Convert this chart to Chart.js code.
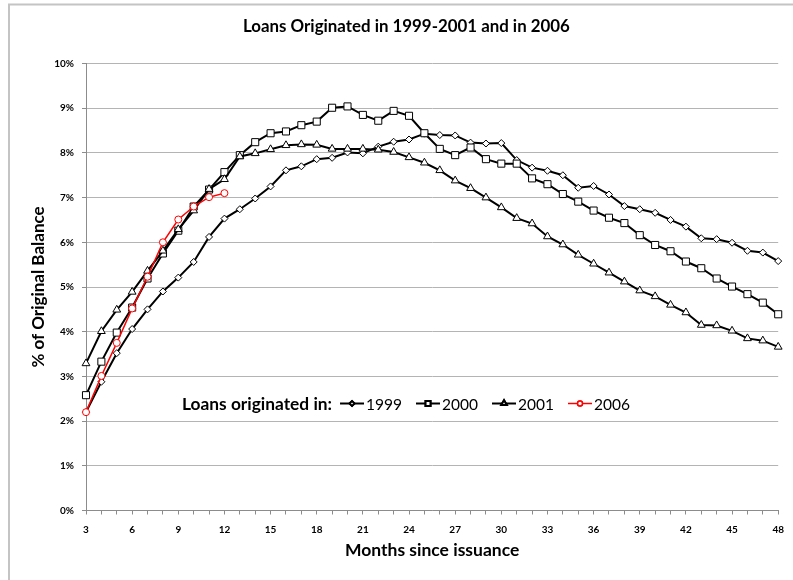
<!DOCTYPE html>
<html>
<head>
<meta charset="utf-8">
<title>Loans Originated in 1999-2001 and in 2006</title>
<script src="https://cdn.jsdelivr.net/npm/chart.js@4.4.1/dist/chart.umd.min.js"></script>
<style>
  html, body { margin: 0; padding: 0; background: #fff; }
  #wrap { width: 793px; height: 580px; }
</style>
</head>
<body>
<div id="wrap"><canvas id="loanchart" width="793" height="580"></canvas></div>
<script>
// data (% of original balance by month since issuance)
var months = [3, 4, 5, 6, 7, 8, 9, 10, 11, 12, 13, 14, 15, 16, 17, 18, 19, 20, 21, 22, 23, 24, 25,
              26, 27, 28, 29, 30, 31, 32, 33, 34, 35, 36, 37, 38, 39, 40, 41, 42, 43, 44, 45, 46, 47, 48];

var s1999 = [2.20, 2.88, 3.52, 4.06, 4.50, 4.90, 5.21, 5.56, 6.12, 6.53,
             6.74, 6.98, 7.25, 7.61, 7.70, 7.86, 7.89, 8.01, 7.99, 8.14,
             8.25, 8.30, 8.43, 8.40, 8.39, 8.23, 8.21, 8.22, 7.84, 7.67,
             7.60, 7.50, 7.22, 7.26, 7.07, 6.81, 6.74, 6.66, 6.50, 6.35,
             6.09, 6.07, 5.99, 5.81, 5.77, 5.58];

var s2000 = [2.58, 3.33, 3.98, 4.54, 5.19, 5.75, 6.26, 6.80, 7.18, 7.57,
             7.95, 8.24, 8.44, 8.48, 8.62, 8.70, 9.01, 9.04, 8.85, 8.72,
             8.94, 8.83, 8.44, 8.09, 7.95, 8.12, 7.86, 7.76, 7.76, 7.43,
             7.30, 7.08, 6.91, 6.71, 6.55, 6.43, 6.16, 5.94, 5.80, 5.57,
             5.42, 5.19, 5.01, 4.84, 4.65, 4.39];

var s2001 = [3.29, 4.01, 4.49, 4.89, 5.36, 5.81, 6.29, 6.71, 7.19, 7.41,
             7.92, 7.99, 8.08, 8.17, 8.19, 8.18, 8.09, 8.09, 8.09, 8.07,
             8.02, 7.90, 7.78, 7.61, 7.38, 7.21, 7.00, 6.78, 6.54, 6.42,
             6.13, 5.95, 5.72, 5.52, 5.32, 5.12, 4.92, 4.79, 4.60, 4.43,
             4.15, 4.14, 4.02, 3.85, 3.80, 3.66];

// 2006 loans only have the first year
var s2006 = [2.20, 3.01, 3.75, 4.52, 5.23, 6.00, 6.51, 6.80, 7.01, 7.10];

var seriesNames = ['1999', '2000', '2001', '2006'];
var chartTitle = 'Loans Originated in 1999-2001 and in 2006';
var legendLead = 'Loans originated in:';
var xTitle = 'Months since issuance';
var yTitle = '% of Original Balance';

function pts(vals) {
    return vals.map(function (v, i) { return { x: months[i], y: v }; });
}

var FONT = 'Lato, "Noto Sans", sans-serif';

// draw text so it spans a given width (reference uses a narrow font)
function fitFont(c, text, weight, width) {
    c.font = weight + ' 20px ' + FONT;
    var size = 20 * width / c.measureText(text).width;
    c.font = weight + ' ' + size.toFixed(2) + 'px ' + FONT;
}

var extras = {
    id: 'extras',
    beforeDraw: function (chart) {
        var c = chart.ctx;
        c.save();
        c.fillStyle = '#fff';
        c.fillRect(0, 0, chart.width, chart.height);
        c.strokeStyle = '#c4c4c4';
        c.lineWidth = 2;
        c.strokeRect(9, 4.5, 820, 640);
        c.restore();
    },
    afterDraw: function (chart) {
        var c = chart.ctx;
        c.save();
        c.fillStyle = '#000';
        c.textBaseline = 'alphabetic';
        c.textAlign = 'left';
        fitFont(c, chartTitle, 'bold', 327);
        c.fillText(chartTitle, 243, 32);

        // legend inside the plot
        var x = 182, y = 409.5;
        fitFont(c, legendLead, 'bold', 150);
        c.fillText(legendLead, x, y);
        x += c.measureText(legendLead).width + 8;
        fitFont(c, '1999', 'normal', 36);
        var metas = chart.data.datasets;
        seriesNames.forEach(function (name) {
            var ds = metas.find(function (d) { return d.label === name; });
            c.strokeStyle = ds.borderColor;
            c.lineWidth = ds.borderWidth;
            c.beginPath();
            c.moveTo(x, 403.5);
            c.lineTo(x + 24, 403.5);
            c.stroke();
            Chart.helpers.drawPoint(c, {
                pointStyle: ds.pointStyle,
                radius: ds.pointRadius * 0.7,
                rotation: 0,
                borderWidth: 1
            }, x + 12, 403.5);
            c.fillStyle = ds.pointBackgroundColor;
            c.strokeStyle = ds.pointBorderColor;
            c.fill();
            c.stroke();
            c.fillStyle = '#000';
            c.fillText(name, x + 26, y);
            x += 26 + c.measureText(name).width + 14;
        });
        c.restore();
    }
};

var lineSet = function (name, vals, style, radius, color, width, order) {
    return {
        label: name,
        data: pts(vals),
        borderColor: color,
        borderWidth: width,
        pointStyle: style,
        pointRadius: radius,
        pointHoverRadius: radius,
        pointBackgroundColor: '#fff',
        pointBorderColor: color,
        pointBorderWidth: 1,
        tension: 0,
        fill: false,
        clip: false,
        order: order
    };
};

var loanchart = new Chart(document.getElementById('loanchart').getContext('2d'), {
    type: 'line',
    data: {
        datasets: [
            lineSet('1999', s1999, 'rectRot', 3.5, '#000', 2, 3),
            lineSet('2000', s2000, 'rect', 5, '#000', 2, 2),
            lineSet('2001', s2001, 'triangle', 4.5, '#000', 2, 1),
            lineSet('2006', s2006, 'circle', 3.5, '#ff0000', 1.5, 0)
        ]
    },
    options: {
        responsive: false,
        animation: false,
        events: [],
        layout: { padding: { top: 63.5, right: 7, left: 0, bottom: 0 } },
        plugins: {
            legend: { display: false },
            title: { display: false },
            tooltip: { enabled: false }
        },
        scales: {
            x: {
                type: 'linear',
                min: 3,
                max: 48,
                afterFit: function (s) { s.height = 69.5; },
                afterBuildTicks: function (s) {
                    s.ticks = months.map(function (m) { return { value: m }; });
                },
                ticks: {
                    autoSkip: false,
                    maxRotation: 0,
                    padding: 9,
                    color: '#000',
                    font: { family: FONT, size: 10, weight: 'bold' },
                    callback: function (v) { return v % 3 === 0 ? v : ''; }
                },
                grid: {
                    drawOnChartArea: false,
                    drawTicks: true,
                    tickLength: 4,
                    color: '#8c8c8c'
                },
                border: { display: true, color: '#8c8c8c', width: 1 },
                title: {
                    display: true,
                    text: xTitle,
                    color: '#000',
                    font: { family: FONT, size: 17.5, weight: 'bold' },
                    padding: { top: 0, bottom: 19 }
                }
            },
            y: {
                min: 0,
                max: 10,
                afterFit: function (s) { s.width = 86; },
                ticks: {
                    stepSize: 1,
                    padding: 8,
                    color: '#000',
                    font: { family: FONT, size: 10, weight: 'bold' },
                    callback: function (v) { return v + '%'; }
                },
                grid: {
                    color: '#b4b4b4',
                    tickColor: '#8c8c8c',
                    tickLength: 4,
                    lineWidth: 1
                },
                border: { display: true, color: '#8c8c8c', width: 1 },
                title: {
                    display: true,
                    text: yTitle,
                    color: '#000',
                    font: { family: FONT, size: 17, weight: 'bold' },
                    padding: { top: 28, bottom: 0 }
                }
            }
        }
    },
    plugins: [extras]
});
</script>
</body>
</html>
